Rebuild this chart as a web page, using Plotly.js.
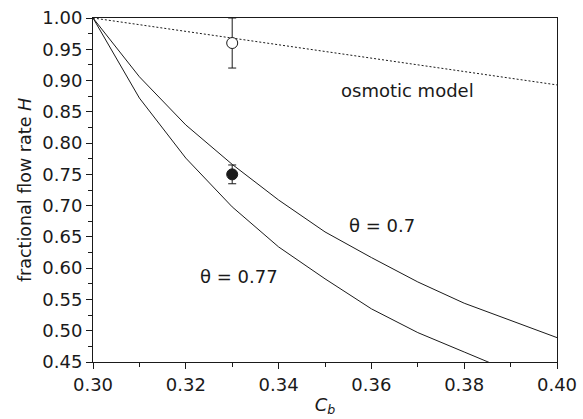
<!DOCTYPE html>
<html>
<head>
<meta charset="utf-8">
<script src="https://cdn.plot.ly/plotly-3.0.1.min.js"></script>
<style>html,body{margin:0;padding:0;background:#fff;}#chart{width:583px;height:419px;}</style>
</head>
<body>
<div id="chart"></div>
<script>
// Data
const cb = [0.30, 0.31, 0.32, 0.33, 0.34, 0.35, 0.36, 0.37, 0.38, 0.39, 0.40];
const hTheta07 = [1.00, 0.906, 0.829, 0.766, 0.709, 0.658, 0.617, 0.578, 0.544, 0.516, 0.489];
const cbTheta077 = [0.30, 0.31, 0.32, 0.33, 0.34, 0.35, 0.36, 0.37, 0.38, 0.39];
const hTheta077 = [1.00, 0.872, 0.776, 0.698, 0.634, 0.583, 0.535, 0.497, 0.466, 0.435];
const cbOsmotic = [0.30, 0.40];
const hOsmotic = [1.00, 0.893];
const cbOpen = [0.33];
const hOpen = [0.96];
const errOpen = [0.04];
const cbFilled = [0.33];
const hFilled = [0.75];
const errFilled = [0.015];

const labels = [
  {text: 'osmotic model', x: 0.3677, y: 0.884},
  {text: 'θ = 0.7', x: 0.3622, y: 0.669},
  {text: 'θ = 0.77', x: 0.3315, y: 0.586}
];

const FONT = 'DejaVu Sans, sans-serif';
const INK = '#1a1a1a';

const traces = [
  {x: cbOsmotic, y: hOsmotic, mode: 'lines', line: {color: INK, width: 1, dash: '2px,2px'}, hoverinfo: 'skip'},
  {x: cb, y: hTheta07, mode: 'lines', line: {color: INK, width: 1}},
  {x: cbTheta077, y: hTheta077, mode: 'lines', line: {color: INK, width: 1}},
  {x: cbOpen, y: hOpen, mode: 'markers',
   marker: {symbol: 'circle', size: 11, color: '#fff', line: {color: INK, width: 1}},
   error_y: {type: 'data', array: errOpen, visible: true, color: INK, thickness: 1, width: 4}},
  {x: cbFilled, y: hFilled, mode: 'markers',
   marker: {symbol: 'circle', size: 11, color: INK, line: {color: INK, width: 1}},
   error_y: {type: 'data', array: errFilled, visible: true, color: INK, thickness: 1, width: 4}}
];

const layout = {
  width: 583, height: 419,
  margin: {l: 93, r: 26, t: 18, b: 57},
  paper_bgcolor: '#fff', plot_bgcolor: '#fff',
  showlegend: false,
  font: {family: FONT, size: 18, color: INK},
  xaxis: {
    range: [0.30, 0.40], dtick: 0.02, tick0: 0.30, tickformat: '.2f',
    ticks: 'outside', ticklen: 6, tickwidth: 1, tickcolor: INK,
    minor: {dtick: 0.01, ticks: 'outside', ticklen: 4, tickwidth: 1, tickcolor: INK},
    showline: true, linecolor: INK, linewidth: 1, mirror: true,
    showgrid: false, zeroline: false,
    tickfont: {family: FONT, size: 18, color: INK},
    title: {text: '<i>C</i><sub><i>b</i></sub>', font: {family: FONT, size: 18, color: INK}, standoff: 4}
  },
  yaxis: {
    range: [0.45, 1.00], dtick: 0.05, tick0: 0.45, tickformat: '.2f',
    ticks: 'outside', ticklen: 6, tickwidth: 1, tickcolor: INK,
    minor: {dtick: 0.025, ticks: 'outside', ticklen: 4, tickwidth: 1, tickcolor: INK},
    showline: true, linecolor: INK, linewidth: 1, mirror: true,
    showgrid: false, zeroline: false,
    tickfont: {family: FONT, size: 18, color: INK},
    title: {text: 'fractional flow rate <i>H</i>', font: {family: FONT, size: 17.5, color: INK}, standoff: 6}
  },
  annotations: labels.map(l => ({
    text: l.text, x: l.x, y: l.y, xref: 'x', yref: 'y', showarrow: false,
    font: {family: FONT, size: 18, color: INK}, xanchor: 'center', yanchor: 'middle'
  }))
};

Plotly.newPlot('chart', traces, layout, {displayModeBar: false, staticPlot: true});
</script>
</body>
</html>
